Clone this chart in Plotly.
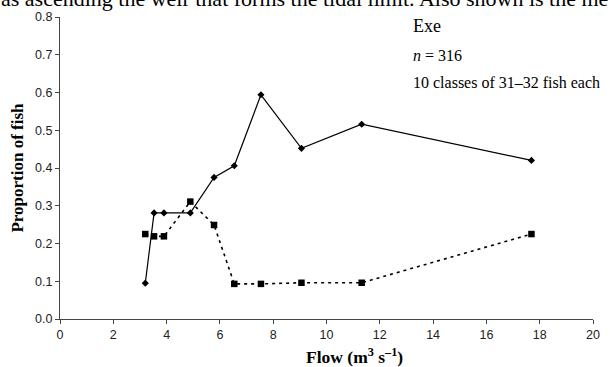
import plotly.graph_objects as go

flow = [3.20, 3.53, 3.90, 4.89, 5.78, 6.54, 7.54, 9.06, 11.32, 17.69]
solid_vals = [0.095, 0.281, 0.281, 0.281, 0.375, 0.406, 0.594, 0.452, 0.516, 0.420]
dashed_vals = [0.225, 0.219, 0.219, 0.311, 0.249, 0.093, 0.093, 0.096, 0.096, 0.225]

x_ticks = list(range(0, 21, 2))
y_ticks = [i / 10 for i in range(0, 9)]

L, T, W, H = 60, 14, 540, 305  # plot area in pixels


def px(xp):
    return (xp - L) / W


def py(yp):
    return 1 - (yp - T) / H


fig = go.Figure()
fig.add_trace(go.Scatter(
    x=flow, y=dashed_vals, mode="lines+markers",
    line=dict(color="black", width=1.6, dash="3px,4px"),
    marker=dict(symbol="square", size=6.5, color="black"),
    showlegend=False, cliponaxis=False))
fig.add_trace(go.Scatter(
    x=flow, y=solid_vals, mode="lines+markers",
    line=dict(color="black", width=1.2),
    marker=dict(symbol="diamond", size=5.5, color="black"),
    showlegend=False, cliponaxis=False))

axis_common = dict(showgrid=False, zeroline=False, showline=True, linecolor="#444",
                   linewidth=1, ticks="outside", ticklen=4, tickcolor="#444",
                   tickfont=dict(family="Liberation Sans, Arial", size=12.5, color="#222"))

serif = "Liberation Serif, Times New Roman"

fig.update_xaxes(range=[0, 20], tickvals=x_ticks, **axis_common)
fig.update_yaxes(range=[0, 0.8], tickvals=y_ticks, tickformat=".1f", **axis_common,
                 title=dict(text="<b>Proportion of fish</b>",
                            font=dict(family=serif, size=17, color="black"),
                            standoff=7))

fig.add_annotation(text="<b>Flow (m<sup>3</sup> s<sup>–1</sup>)</b>", xref="paper", yref="paper",
                   x=px(358), y=py(356), xanchor="center", yanchor="middle", showarrow=False,
                   font=dict(family=serif, size=17.5, color="black"))
fig.add_annotation(text="Exe", xref="paper", yref="paper", x=px(416), y=py(23),
                   xanchor="left", yanchor="middle", showarrow=False,
                   font=dict(family=serif, size=18, color="black"))
fig.add_annotation(text="<i>n</i> = 316", xref="paper", yref="paper", x=px(416), y=py(53),
                   xanchor="left", yanchor="middle", showarrow=False,
                   font=dict(family=serif, size=16, color="black"))
fig.add_annotation(text="10 classes of 31–32 fish each", xref="paper", yref="paper", x=px(416),
                   y=py(80), xanchor="left", yanchor="middle", showarrow=False,
                   font=dict(family=serif, size=16, color="black"))
fig.add_annotation(text="as ascending the weir that forms the tidal limit. Also shown is the me",
                   xref="paper", yref="paper", x=px(-2), y=py(10),
                   xanchor="left", yanchor="bottom", showarrow=False,
                   font=dict(family=serif, size=22, color="black"))

fig.update_layout(width=610, height=367, margin=dict(l=L, r=610 - L - W, t=T, b=367 - T - H),
                  plot_bgcolor="white", paper_bgcolor="white")

fig.write_html("out.html")
